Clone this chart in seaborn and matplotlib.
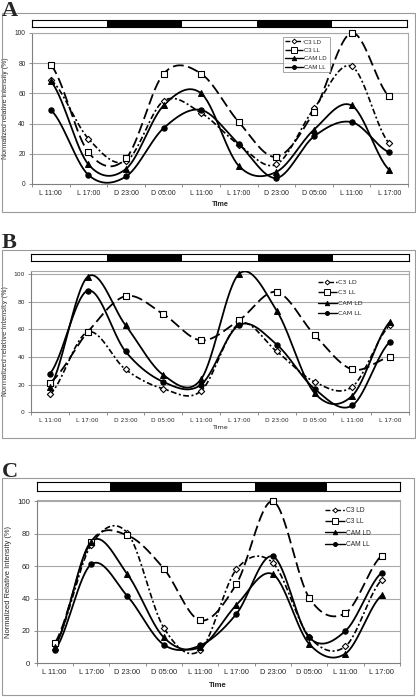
import numpy as np
import pandas as pd
import matplotlib
matplotlib.use("Agg")
import matplotlib.pyplot as plt
import seaborn as sns
from matplotlib.lines import Line2D
from matplotlib.patches import Rectangle

# ---------------- data ----------------
times = ["L 11:00", "L 17:00", "D 23:00", "D 05:00", "L 11:00",
         "L 17:00", "D 23:00", "D 05:00", "L 11:00", "L 17:00"]
series_names = ["C3 LD", "C3 LL", "CAM LD", "CAM LL"]

a_c3_ld = [69, 30, 15, 55, 47, 26, 13, 50, 78, 27]
a_c3_ll = [79, 21, 17, 73, 73, 41, 18, 48, 100, 58]
a_cam_ld = [68, 13, 10, 52, 60, 12, 8, 36, 52, 9.5]
a_cam_ll = [49, 6, 5, 37, 49, 26.5, 4, 31.5, 41, 21]

b_c3_ld = [13, 58, 31, 17, 15.5, 64, 44, 22, 18.5, 63]
b_c3_ll = [21.5, 58, 84, 71, 52, 66.5, 87, 56, 31, 40]
b_cam_ld = [18, 98, 63, 27, 24, 100, 73.5, 14, 12, 65.5]
b_cam_ll = [28, 88, 44, 22, 20, 63, 49, 17, 5, 51]

c_c3_ld = [11, 73, 80.5, 22, 8, 58, 62, 16.5, 10.5, 51.5]
c_c3_ll = [12.5, 75, 79, 58.5, 26.5, 49, 100, 40.5, 31, 66.5]
c_cam_ld = [10, 75, 55, 16, 10, 36, 55, 12, 6, 42]
c_cam_ll = [8, 61, 41.5, 11.5, 11, 30.5, 66, 16, 20, 56]

yticks = [0, 20, 40, 60, 80, 100]

# ---------------- helpers ----------------
W, H = 416, 697


def smooth(vals, n=30):
    """Excel-style smoothed line (Catmull-Rom through the points)."""
    p = np.asarray(vals, float)
    xs, ys = [], []
    for i in range(len(p) - 1):
        p0 = p[i - 1] if i > 0 else p[i]
        p1, p2 = p[i], p[i + 1]
        p3 = p[i + 2] if i + 2 < len(p) else p[i + 1]
        m1 = (p2 - p0) / 2.0
        m2 = (p3 - p1) / 2.0
        t = np.linspace(0, 1, n, endpoint=(i == len(p) - 2))
        h00 = 2 * t**3 - 3 * t**2 + 1
        h10 = t**3 - 2 * t**2 + t
        h01 = -2 * t**3 + 3 * t**2
        h11 = t**3 - t**2
        ys.append(h00 * p1 + h10 * m1 + h01 * p2 + h11 * m2)
        xs.append(i + t)
    return np.concatenate(xs), np.concatenate(ys)


styles = {
    "C3 LD": dict(marker="D", ms=3.2, mfc="white", ls=(0, (3.5, 1.5, 1.2, 1.5)), lw=1.2),
    "C3 LL": dict(marker="s", ms=5.0, mfc="white", ls=(0, (6, 2.5)), lw=1.3),
    "CAM LD": dict(marker="^", ms=4.2, mfc="black", ls="-", lw=1.3),
    "CAM LL": dict(marker="o", ms=3.8, mfc="black", ls="-", lw=1.3),
}


def fbox(x0, y0, x1, y1):
    return [x0 / W, 1 - y1 / H, (x1 - x0) / W, (y1 - y0) / H]


sns.set_theme(style="white")
plt.rcParams["axes.unicode_minus"] = False

fig = plt.figure(figsize=(W / 100, H / 100), dpi=100)
fig.patch.set_facecolor("white")

panels = [
    dict(label="A", data=[a_c3_ld, a_c3_ll, a_cam_ld, a_cam_ll],
         ax=(32, 33, 408, 184), ytop=100, bar=(32, 20, 407, 27), box=(2, 13, 415, 212),
         lab_y=15.7, font="Liberation Sans", tick=5.0, ytick=4.8, ylabel="Normalized relative intensity (%)",
         ylab=5.0, xlab_w="bold", xlab=5.2, xlab_pad=3.5, leg=(280, 34), legframe=True, legfs=4.3,
         legspacing=0.55),
    dict(label="B", data=[b_c3_ld, b_c3_ll, b_cam_ld, b_cam_ll],
         ax=(31, 270.7, 409, 412.3), ytop=102.4, bar=(31, 254, 409, 261), box=(2, 250, 415, 438),
         lab_y=248.3, font="DejaVu Sans", tick=4.3, ytick=4.3, ylabel="Normalized relative intensity (%)",
         ylab=4.8, xlab_w="normal", xlab=4.6, xlab_pad=1.5, leg=(312, 274), legframe=False, legfs=4.6,
         legspacing=0.75),
    dict(label="C", data=[c_c3_ld, c_c3_ll, c_cam_ld, c_cam_ll],
         ax=(36.5, 499.7, 400, 663.3), ytop=101, bar=(37, 482, 400, 491), box=(2, 478, 414, 695),
         lab_y=476.7, font="Liberation Sans", tick=5.4, ytick=5.6, ylabel="Normalized Relative Intensity (%)",
         ylab=5.4, xlab_w="bold", xlab=5.6, xlab_pad=4.5, leg=(319, 501), legframe=False, legfs=4.8,
         legspacing=0.65),
]

xpos = np.arange(len(times))

for P in panels:
    # outer frame of the panel
    x0, y0, x1, y1 = P["box"]
    fig.patches.append(Rectangle((x0 / W, 1 - y1 / H), (x1 - x0) / W, (y1 - y0) / H,
                                 transform=fig.transFigure, fill=False,
                                 edgecolor="#9a9a9a", lw=0.8, zorder=0))
    fig.text(2 / W, 1 - P["lab_y"] / H, P["label"], ha="left", va="baseline",
             fontsize=16, fontweight="bold", family="Liberation Serif")

    # light / dark bar
    bax = fig.add_axes(fbox(*P["bar"]))
    phase = pd.DataFrame({"x": xpos, "dark": [1 if t.startswith("D") else 0 for t in times]})
    bax.bar(phase["x"], 1, width=1.0,
            color=["black" if d else "white" for d in phase["dark"]], edgecolor="none")
    bax.set_xlim(-0.5, len(times) - 0.5)
    bax.set_ylim(0, 1)
    bax.set_xticks([])
    bax.set_yticks([])
    for s in bax.spines.values():
        s.set_color("black")
        s.set_linewidth(0.8)

    ax = fig.add_axes(fbox(*P["ax"]))
    ax.set_facecolor("white")
    for name, vals in zip(series_names, P["data"]):
        st = styles[name]
        sx, sy = smooth(vals)
        df = pd.DataFrame({"x": sx, "y": sy})
        sns.lineplot(data=df, x="x", y="y", ax=ax, color="black", lw=st["lw"],
                     linestyle=st["ls"], sort=False, estimator=None, zorder=3)
        dm = pd.DataFrame({"x": xpos, "y": vals})
        sns.scatterplot(data=dm, x="x", y="y", ax=ax, marker=st["marker"],
                        s=st["ms"] ** 2, facecolor=st["mfc"], edgecolor="black",
                        linewidth=0.8, zorder=4, clip_on=False)

    ax.set_xlim(-0.5, len(times) - 0.5)
    ax.set_ylim(0, P["ytop"])
    ax.set_yticks(yticks)
    ax.set_yticklabels([str(v) for v in yticks], fontsize=P["ytick"], family=P["font"])
    ax.set_xticks(xpos)
    ax.set_xticklabels(times, fontsize=P["tick"], family=P["font"])
    ax.set_xticks(np.arange(-0.5, len(times) + 0.5, 1.0), minor=True)
    ax.tick_params(axis="x", which="major", length=0, pad=4)
    ax.tick_params(axis="x", which="minor", length=2.5, width=0.6, color="#7f7f7f", bottom=True)
    ax.tick_params(axis="y", which="major", length=2.5, width=0.6, color="#7f7f7f", left=True, pad=2)
    for y in yticks:
        if y > 0:
            ax.axhline(y, color="#a8a8a8", lw=0.8, zorder=1)
    for k in ["left", "bottom"]:
        ax.spines[k].set_color("#7f7f7f")
        ax.spines[k].set_linewidth(0.8)
    for k in ["top", "right"]:
        ax.spines[k].set_color("#a8a8a8")
        ax.spines[k].set_linewidth(0.8)
    ax.set_xlabel("Time", fontsize=P["xlab"], fontweight=P["xlab_w"], family=P["font"],
                  labelpad=P["xlab_pad"])
    ax.set_ylabel(P["ylabel"], fontsize=P["ylab"], family=P["font"], labelpad=4)

    handles = [Line2D([], [], color="black", lw=1.0, linestyle=styles[n]["ls"],
                      marker=styles[n]["marker"], markersize=styles[n]["ms"] * 0.75,
                      markerfacecolor=styles[n]["mfc"], markeredgecolor="black",
                      markeredgewidth=0.7) for n in series_names]
    lx, ly = P["leg"]
    leg = ax.legend(handles, series_names, loc="upper left",
                    bbox_to_anchor=(lx / W, 1 - ly / H), bbox_transform=fig.transFigure,
                    frameon=P["legframe"], fancybox=False, borderpad=0.4,
                    handlelength=3.0, handletextpad=0.2, labelspacing=P["legspacing"],
                    prop={"family": P["font"], "size": P["legfs"]})
    if P["legframe"]:
        leg.get_frame().set_edgecolor("#7f7f7f")
        leg.get_frame().set_linewidth(0.6)

fig.savefig("out.png", dpi=100, facecolor="white")
